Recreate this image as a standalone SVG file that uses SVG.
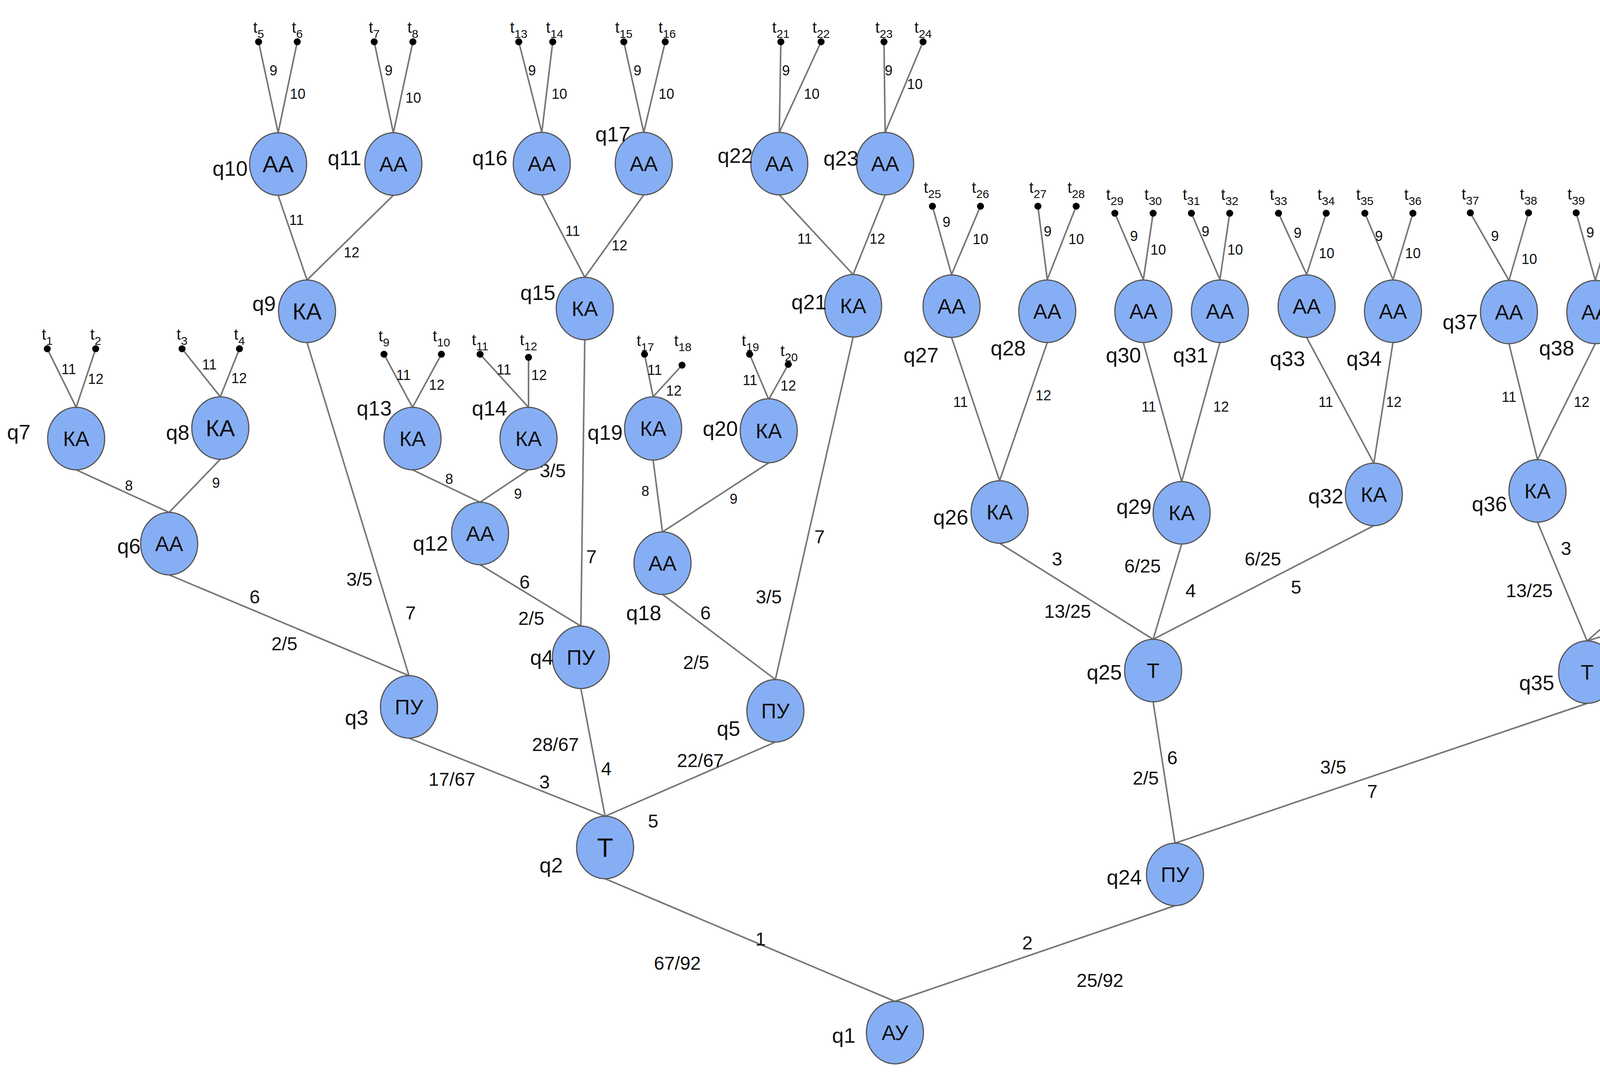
<svg xmlns="http://www.w3.org/2000/svg" width="5385" height="2750" viewBox="0 0 5385 2750">
<style>
text{font-family:"Liberation Sans",Arial,sans-serif;fill:#111;text-anchor:middle;dominant-baseline:central}
.n ellipse{fill:#86aef4;stroke:#555;stroke-width:3}
.n text{font-size:54px}
.ql{font-size:46px}
.s{font-size:36px}
.b{font-size:48px}
.t{font-size:40px}
.t tspan{font-size:30px}
#edges line{stroke:#777;stroke-width:4}
.d{fill:#000}
</style>
<g id="edges">
<line x1="1549" y1="2250" x2="2291" y2="2564"/>
<line x1="3008" y1="2319" x2="2291" y2="2564"/>
<line x1="1047" y1="1890" x2="1549" y2="2090"/>
<line x1="1487" y1="1763" x2="1549" y2="2090"/>
<line x1="1985" y1="1900" x2="1549" y2="2090"/>
<line x1="433" y1="1472" x2="1047" y2="1730"/>
<line x1="786" y1="877" x2="1047" y2="1730"/>
<line x1="1229" y1="1446" x2="1487" y2="1603"/>
<line x1="1497" y1="870" x2="1487" y2="1603"/>
<line x1="1696" y1="1522" x2="1985" y2="1740"/>
<line x1="2184" y1="863" x2="1985" y2="1740"/>
<line x1="195" y1="1203" x2="433" y2="1312"/>
<line x1="564" y1="1176" x2="433" y2="1312"/>
<line x1="712" y1="500" x2="786" y2="717"/>
<line x1="1007" y1="500" x2="786" y2="717"/>
<line x1="1056" y1="1203" x2="1229" y2="1286"/>
<line x1="1353" y1="1203" x2="1229" y2="1286"/>
<line x1="1387" y1="499" x2="1497" y2="710"/>
<line x1="1648" y1="499" x2="1497" y2="710"/>
<line x1="1672" y1="1178" x2="1696" y2="1362"/>
<line x1="1968" y1="1185" x2="1696" y2="1362"/>
<line x1="1995" y1="499" x2="2184" y2="703"/>
<line x1="2266" y1="499" x2="2184" y2="703"/>
<line x1="2952" y1="1797" x2="3008" y2="2159"/>
<line x1="4063" y1="1801" x2="3008" y2="2159"/>
<line x1="2559" y1="1391" x2="2952" y2="1637"/>
<line x1="3025" y1="1393" x2="2952" y2="1637"/>
<line x1="3517" y1="1346" x2="2952" y2="1637"/>
<line x1="3936" y1="1337" x2="4063" y2="1641"/>
<line x1="4404" y1="1346" x2="4063" y2="1641"/>
<line x1="4871" y1="1400" x2="4063" y2="1641"/>
<line x1="2436" y1="864" x2="2559" y2="1231"/>
<line x1="2681" y1="877" x2="2559" y2="1231"/>
<line x1="2927" y1="877" x2="3025" y2="1233"/>
<line x1="3123" y1="877" x2="3025" y2="1233"/>
<line x1="3345" y1="864" x2="3517" y2="1186"/>
<line x1="3566" y1="877" x2="3517" y2="1186"/>
<line x1="3863" y1="880" x2="3936" y2="1177"/>
<line x1="4084" y1="880" x2="3936" y2="1177"/>
<line x1="4305" y1="878" x2="4404" y2="1185"/>
<line x1="4551" y1="865" x2="4404" y2="1185"/>
<line x1="4848" y1="878" x2="4871" y2="1239"/>
<line x1="5191" y1="907" x2="4871" y2="1239"/>
<line x1="121" y1="893" x2="195" y2="1043"/><line x1="245" y1="893" x2="195" y2="1043"/>
<line x1="466" y1="893" x2="564" y2="1016"/><line x1="613" y1="893" x2="564" y2="1016"/>
<line x1="662" y1="107" x2="712" y2="340"/><line x1="761" y1="107" x2="712" y2="340"/>
<line x1="958" y1="107" x2="1007" y2="340"/><line x1="1057" y1="107" x2="1007" y2="340"/>
<line x1="983" y1="907" x2="1056" y2="1043"/><line x1="1130" y1="907" x2="1056" y2="1043"/>
<line x1="1229" y1="907" x2="1353" y2="1043"/><line x1="1353" y1="915" x2="1353" y2="1043"/>
<line x1="1328" y1="107" x2="1387" y2="339"/><line x1="1415" y1="107" x2="1387" y2="339"/>
<line x1="1597" y1="107" x2="1648" y2="339"/><line x1="1703" y1="107" x2="1648" y2="339"/>
<line x1="1650" y1="907" x2="1672" y2="1016"/><line x1="1746" y1="935" x2="1672" y2="1016"/>
<line x1="1919" y1="907" x2="1968" y2="1023"/><line x1="2018" y1="933" x2="1968" y2="1023"/>
<line x1="1999" y1="107" x2="1995" y2="339"/><line x1="2102" y1="107" x2="1995" y2="339"/>
<line x1="2263" y1="107" x2="2266" y2="339"/><line x1="2363" y1="107" x2="2266" y2="339"/>
<line x1="2387" y1="528" x2="2436" y2="703"/><line x1="2510" y1="528" x2="2436" y2="703"/>
<line x1="2657" y1="528" x2="2681" y2="716"/><line x1="2755" y1="528" x2="2681" y2="716"/>
<line x1="2854" y1="546" x2="2927" y2="716"/><line x1="2952" y1="546" x2="2927" y2="716"/>
<line x1="3050" y1="546" x2="3123" y2="716"/><line x1="3148" y1="546" x2="3123" y2="716"/>
<line x1="3273" y1="546" x2="3345" y2="703"/><line x1="3395" y1="546" x2="3345" y2="703"/>
<line x1="3494" y1="546" x2="3566" y2="716"/><line x1="3617" y1="546" x2="3566" y2="716"/>
<line x1="3764" y1="545" x2="3863" y2="718"/><line x1="3913" y1="545" x2="3863" y2="718"/>
<line x1="4035" y1="545" x2="4084" y2="718"/><line x1="4134" y1="545" x2="4084" y2="718"/>
<line x1="4281" y1="545" x2="4305" y2="716"/><line x1="4379" y1="545" x2="4305" y2="716"/>
<line x1="4478" y1="545" x2="4551" y2="703"/><line x1="4600" y1="545" x2="4551" y2="703"/>
<line x1="4824" y1="545" x2="4848" y2="716"/><line x1="4947" y1="545" x2="4848" y2="716"/>
<line x1="5143" y1="545" x2="5191" y2="745"/><line x1="5340" y1="545" x2="5191" y2="745"/>
</g>
<g id="terminals">
<circle class="d" cx="121" cy="893" r="9"/><text class="t" x="121" y="856">t<tspan baseline-shift="sub">1</tspan></text>
<circle class="d" cx="245" cy="893" r="9"/><text class="t" x="245" y="856">t<tspan baseline-shift="sub">2</tspan></text>
<circle class="d" cx="466" cy="893" r="9"/><text class="t" x="466" y="856">t<tspan baseline-shift="sub">3</tspan></text>
<circle class="d" cx="613" cy="893" r="9"/><text class="t" x="613" y="856">t<tspan baseline-shift="sub">4</tspan></text>
<circle class="d" cx="662" cy="107" r="9"/><text class="t" x="662" y="70">t<tspan baseline-shift="sub">5</tspan></text>
<circle class="d" cx="761" cy="107" r="9"/><text class="t" x="761" y="70">t<tspan baseline-shift="sub">6</tspan></text>
<circle class="d" cx="958" cy="107" r="9"/><text class="t" x="958" y="70">t<tspan baseline-shift="sub">7</tspan></text>
<circle class="d" cx="1057" cy="107" r="9"/><text class="t" x="1057" y="70">t<tspan baseline-shift="sub">8</tspan></text>
<circle class="d" cx="983" cy="907" r="9"/><text class="t" x="983" y="860">t<tspan baseline-shift="sub">9</tspan></text>
<circle class="d" cx="1130" cy="907" r="9"/><text class="t" x="1130" y="860">t<tspan baseline-shift="sub">10</tspan></text>
<circle class="d" cx="1229" cy="907" r="9"/><text class="t" x="1229" y="870">t<tspan baseline-shift="sub">11</tspan></text>
<circle class="d" cx="1353" cy="915" r="9"/><text class="t" x="1353" y="870">t<tspan baseline-shift="sub">12</tspan></text>
<circle class="d" cx="1328" cy="107" r="9"/><text class="t" x="1328" y="70">t<tspan baseline-shift="sub">13</tspan></text>
<circle class="d" cx="1415" cy="107" r="9"/><text class="t" x="1420" y="70">t<tspan baseline-shift="sub">14</tspan></text>
<circle class="d" cx="1597" cy="107" r="9"/><text class="t" x="1597" y="70">t<tspan baseline-shift="sub">15</tspan></text>
<circle class="d" cx="1703" cy="107" r="9"/><text class="t" x="1708" y="70">t<tspan baseline-shift="sub">16</tspan></text>
<circle class="d" cx="1650" cy="907" r="9"/><text class="t" x="1652" y="872">t<tspan baseline-shift="sub">17</tspan></text>
<circle class="d" cx="1746" cy="935" r="9"/><text class="t" x="1748" y="872">t<tspan baseline-shift="sub">18</tspan></text>
<circle class="d" cx="1919" cy="907" r="9"/><text class="t" x="1921" y="872">t<tspan baseline-shift="sub">19</tspan></text>
<circle class="d" cx="2018" cy="933" r="9"/><text class="t" x="2020" y="898">t<tspan baseline-shift="sub">20</tspan></text>
<circle class="d" cx="1999" cy="107" r="9"/><text class="t" x="1999" y="70">t<tspan baseline-shift="sub">21</tspan></text>
<circle class="d" cx="2102" cy="107" r="9"/><text class="t" x="2102" y="70">t<tspan baseline-shift="sub">22</tspan></text>
<circle class="d" cx="2263" cy="107" r="9"/><text class="t" x="2263" y="70">t<tspan baseline-shift="sub">23</tspan></text>
<circle class="d" cx="2363" cy="107" r="9"/><text class="t" x="2363" y="70">t<tspan baseline-shift="sub">24</tspan></text>
<circle class="d" cx="2387" cy="528" r="9"/><text class="t" x="2387" y="480">t<tspan baseline-shift="sub">25</tspan></text>
<circle class="d" cx="2510" cy="528" r="9"/><text class="t" x="2510" y="480">t<tspan baseline-shift="sub">26</tspan></text>
<circle class="d" cx="2657" cy="528" r="9"/><text class="t" x="2657" y="480">t<tspan baseline-shift="sub">27</tspan></text>
<circle class="d" cx="2755" cy="528" r="9"/><text class="t" x="2755" y="480">t<tspan baseline-shift="sub">28</tspan></text>
<circle class="d" cx="2854" cy="546" r="9"/><text class="t" x="2854" y="498">t<tspan baseline-shift="sub">29</tspan></text>
<circle class="d" cx="2952" cy="546" r="9"/><text class="t" x="2952" y="498">t<tspan baseline-shift="sub">30</tspan></text>
<circle class="d" cx="3050" cy="546" r="9"/><text class="t" x="3050" y="498">t<tspan baseline-shift="sub">31</tspan></text>
<circle class="d" cx="3148" cy="546" r="9"/><text class="t" x="3148" y="498">t<tspan baseline-shift="sub">32</tspan></text>
<circle class="d" cx="3273" cy="546" r="9"/><text class="t" x="3273" y="498">t<tspan baseline-shift="sub">33</tspan></text>
<circle class="d" cx="3395" cy="546" r="9"/><text class="t" x="3395" y="498">t<tspan baseline-shift="sub">34</tspan></text>
<circle class="d" cx="3494" cy="546" r="9"/><text class="t" x="3494" y="498">t<tspan baseline-shift="sub">35</tspan></text>
<circle class="d" cx="3617" cy="546" r="9"/><text class="t" x="3617" y="498">t<tspan baseline-shift="sub">36</tspan></text>
<circle class="d" cx="3764" cy="545" r="9"/><text class="t" x="3764" y="497">t<tspan baseline-shift="sub">37</tspan></text>
<circle class="d" cx="3913" cy="545" r="9"/><text class="t" x="3913" y="497">t<tspan baseline-shift="sub">38</tspan></text>
<circle class="d" cx="4035" cy="545" r="9"/><text class="t" x="4035" y="497">t<tspan baseline-shift="sub">39</tspan></text>
<circle class="d" cx="4134" cy="545" r="9"/><text class="t" x="4134" y="497">t<tspan baseline-shift="sub">40</tspan></text>
<circle class="d" cx="4281" cy="545" r="9"/><text class="t" x="4281" y="497">t<tspan baseline-shift="sub">41</tspan></text>
<circle class="d" cx="4379" cy="545" r="9"/><text class="t" x="4379" y="497">t<tspan baseline-shift="sub">42</tspan></text>
<circle class="d" cx="4478" cy="545" r="9"/><text class="t" x="4478" y="497">t<tspan baseline-shift="sub">43</tspan></text>
<circle class="d" cx="4600" cy="545" r="9"/><text class="t" x="4600" y="497">t<tspan baseline-shift="sub">44</tspan></text>
<circle class="d" cx="4824" cy="545" r="9"/><text class="t" x="4824" y="497">t<tspan baseline-shift="sub">45</tspan></text>
<circle class="d" cx="4947" cy="545" r="9"/><text class="t" x="4947" y="497">t<tspan baseline-shift="sub">46</tspan></text>
<circle class="d" cx="5143" cy="545" r="9"/><text class="t" x="5143" y="497">t<tspan baseline-shift="sub">47</tspan></text>
<circle class="d" cx="5340" cy="545" r="9"/><text class="t" x="5335" y="497">t<tspan baseline-shift="sub">48</tspan></text>
</g>
<g id="edge-labels">
<text class="s" x="176" y="945">11</text><text class="s" x="245" y="970">12</text>
<text class="s" x="536" y="933">11</text><text class="s" x="612" y="968">12</text>
<text class="s" x="700" y="180">9</text><text class="s" x="762" y="240">10</text>
<text class="s" x="995" y="180">9</text><text class="s" x="1058" y="250">10</text>
<text class="s" x="1033" y="960">11</text><text class="s" x="1118" y="985">12</text>
<text class="s" x="1290" y="946">11</text><text class="s" x="1380" y="960">12</text>
<text class="s" x="1362" y="180">9</text><text class="s" x="1432" y="240">10</text>
<text class="s" x="1632" y="180">9</text><text class="s" x="1706" y="240">10</text>
<text class="s" x="1676" y="947">11</text><text class="s" x="1725" y="1000">12</text>
<text class="s" x="1920" y="973">11</text><text class="s" x="2018" y="987">12</text>
<text class="s" x="2012" y="180">9</text><text class="s" x="2078" y="240">10</text>
<text class="s" x="2275" y="180">9</text><text class="s" x="2342" y="215">10</text>
<text class="s" x="2423" y="568">9</text><text class="s" x="2510" y="612">10</text>
<text class="s" x="2682" y="592">9</text><text class="s" x="2755" y="612">10</text>
<text class="s" x="2903" y="604">9</text><text class="s" x="2965" y="639">10</text>
<text class="s" x="3086" y="592">9</text><text class="s" x="3162" y="639">10</text>
<text class="s" x="3322" y="596">9</text><text class="s" x="3396" y="648">10</text>
<text class="s" x="3530" y="604">9</text><text class="s" x="3617" y="648">10</text>
<text class="s" x="3827" y="604">9</text><text class="s" x="3915" y="663">10</text>
<text class="s" x="4071" y="595">9</text><text class="s" x="4135" y="650">10</text>
<text class="s" x="4318" y="595">9</text><text class="s" x="4368" y="661">10</text>
<text class="s" x="4525" y="595">9</text><text class="s" x="4603" y="641">10</text>
<text class="s" x="4848" y="595">9</text><text class="s" x="4923" y="648">10</text>
<text class="s" x="5181" y="601">9</text><text class="s" x="5267" y="684">10</text>
<text class="s" x="759" y="563">11</text><text class="s" x="900" y="646">12</text>
<text class="s" x="1466" y="591">11</text><text class="s" x="1586" y="628">12</text>
<text class="s" x="2060" y="611">11</text><text class="s" x="2246" y="611">12</text>
<text class="s" x="330" y="1243">8</text><text class="s" x="553" y="1236">9</text>
<text class="s" x="1150" y="1226">8</text><text class="s" x="1326" y="1264">9</text>
<text class="s" x="1652" y="1257">8</text><text class="s" x="1878" y="1277">9</text>
<text class="s" x="2459" y="1029">11</text><text class="s" x="2671" y="1012">12</text>
<text class="s" x="2941" y="1041">11</text><text class="s" x="3126" y="1041">12</text>
<text class="s" x="3394" y="1029">11</text><text class="s" x="3568" y="1029">12</text>
<text class="s" x="3863" y="1016">11</text><text class="s" x="4049" y="1029">12</text>
<text class="s" x="4307" y="1029">11</text><text class="s" x="4527" y="1029">12</text>
<text class="s" x="4823" y="1029">11</text><text class="s" x="5095" y="1062">12</text>
<text class="b" x="652" y="1528">6</text><text class="b" x="728" y="1648">2/5</text>
<text class="b" x="920" y="1483">3/5</text><text class="b" x="1051" y="1569">7</text>
<text class="b" x="1343" y="1490">6</text><text class="b" x="1360" y="1583">2/5</text>
<text class="b" x="1415" y="1205">3/5</text><text class="b" x="1514" y="1425">7</text>
<text class="b" x="1806" y="1569">6</text><text class="b" x="1782" y="1696">2/5</text>
<text class="b" x="2098" y="1374">7</text><text class="b" x="1968" y="1528">3/5</text>
<text class="b" x="1157" y="1995">17/67</text><text class="b" x="1394" y="2002">3</text>
<text class="b" x="1422" y="1906">28/67</text><text class="b" x="1552" y="1968">4</text>
<text class="b" x="1793" y="1947">22/67</text><text class="b" x="1672" y="2102">5</text>
<text class="b" x="1947" y="2404">1</text><text class="b" x="1734" y="2466">67/92</text>
<text class="b" x="2630" y="2414">2</text><text class="b" x="2816" y="2510">25/92</text>
<text class="b" x="2933" y="1992">2/5</text><text class="b" x="3001" y="1940">6</text>
<text class="b" x="3413" y="1964">3/5</text><text class="b" x="3513" y="2026">7</text>
<text class="b" x="2706" y="1431">3</text><text class="b" x="2733" y="1565">13/25</text>
<text class="b" x="2925" y="1449">6/25</text><text class="b" x="3048" y="1512">4</text>
<text class="b" x="3233" y="1431">6/25</text><text class="b" x="3318" y="1503">5</text>
<text class="b" x="4009" y="1404">3</text><text class="b" x="3915" y="1512">13/25</text>
<text class="b" x="4194" y="1449">6/25</text><text class="b" x="4267" y="1512">4</text>
<text class="b" x="4476" y="1449">6/25</text><text class="b" x="4391" y="1592">5</text>
</g>
<g id="q1" class="n"><ellipse cx="2291" cy="2644" rx="73" ry="80"/><text x="2291" y="2644">АУ</text><text class="ql" x="2160" y="2651">q1</text></g>
<g id="q2" class="n"><ellipse cx="1549" cy="2170" rx="73" ry="80"/><text x="1549" y="2170" style="font-size:68px">Т</text><text class="ql" x="1411" y="2215">q2</text></g>
<g id="q3" class="n"><ellipse cx="1047" cy="1810" rx="73" ry="80"/><text x="1047" y="1810">ПУ</text><text class="ql" x="913" y="1837">q3</text></g>
<g id="q4" class="n"><ellipse cx="1487" cy="1683" rx="73" ry="80"/><text x="1487" y="1683">ПУ</text><text class="ql" x="1387" y="1683">q4</text></g>
<g id="q5" class="n"><ellipse cx="1985" cy="1820" rx="73" ry="80"/><text x="1985" y="1820">ПУ</text><text class="ql" x="1865" y="1865">q5</text></g>
<g id="q6" class="n"><ellipse cx="433" cy="1392" rx="73" ry="80"/><text x="433" y="1392">АА</text><text class="ql" x="330" y="1398">q6</text></g>
<g id="q7" class="n"><ellipse cx="195" cy="1123" rx="73" ry="80"/><text x="195" y="1123">КА</text><text class="ql" x="48" y="1106">q7</text></g>
<g id="q8" class="n"><ellipse cx="564" cy="1096" rx="73" ry="80"/><text x="564" y="1096" style="font-size:60px">КА</text><text class="ql" x="455" y="1107">q8</text></g>
<g id="q9" class="n"><ellipse cx="786" cy="797" rx="73" ry="80"/><text x="786" y="797" style="font-size:60px">КА</text><text class="ql" x="676" y="777">q9</text></g>
<g id="q10" class="n"><ellipse cx="712" cy="420" rx="73" ry="80"/><text x="712" y="420" style="font-size:60px">АА</text><text class="ql" x="589" y="431">q10</text></g>
<g id="q11" class="n"><ellipse cx="1007" cy="420" rx="73" ry="80"/><text x="1007" y="420">АА</text><text class="ql" x="882" y="404">q11</text></g>
<g id="q12" class="n"><ellipse cx="1229" cy="1366" rx="73" ry="80"/><text x="1229" y="1366">АА</text><text class="ql" x="1102" y="1391">q12</text></g>
<g id="q13" class="n"><ellipse cx="1056" cy="1123" rx="73" ry="80"/><text x="1056" y="1123">КА</text><text class="ql" x="958" y="1045">q13</text></g>
<g id="q14" class="n"><ellipse cx="1353" cy="1123" rx="73" ry="80"/><text x="1353" y="1123">КА</text><text class="ql" x="1253" y="1045">q14</text></g>
<g id="q15" class="n"><ellipse cx="1497" cy="790" rx="73" ry="80"/><text x="1497" y="790">КА</text><text class="ql" x="1377" y="749">q15</text></g>
<g id="q16" class="n"><ellipse cx="1387" cy="419" rx="73" ry="80"/><text x="1387" y="419">АА</text><text class="ql" x="1254" y="404">q16</text></g>
<g id="q17" class="n"><ellipse cx="1648" cy="419" rx="73" ry="80"/><text x="1648" y="419">АА</text><text class="ql" x="1569" y="343">q17</text></g>
<g id="q18" class="n"><ellipse cx="1696" cy="1442" rx="73" ry="80"/><text x="1696" y="1442">АА</text><text class="ql" x="1648" y="1569">q18</text></g>
<g id="q19" class="n"><ellipse cx="1672" cy="1097" rx="73" ry="81"/><text x="1672" y="1097">КА</text><text class="ql" x="1549" y="1107">q19</text></g>
<g id="q20" class="n"><ellipse cx="1968" cy="1103" rx="73" ry="82"/><text x="1968" y="1103">КА</text><text class="ql" x="1844" y="1097">q20</text></g>
<g id="q21" class="n"><ellipse cx="2184" cy="783" rx="73" ry="80"/><text x="2184" y="783">КА</text><text class="ql" x="2071" y="773">q21</text></g>
<g id="q22" class="n"><ellipse cx="1995" cy="419" rx="73" ry="80"/><text x="1995" y="419">АА</text><text class="ql" x="1882" y="398">q22</text></g>
<g id="q23" class="n"><ellipse cx="2266" cy="419" rx="73" ry="80"/><text x="2266" y="419">АА</text><text class="ql" x="2153" y="405">q23</text></g>
<g id="q24" class="n"><ellipse cx="3008" cy="2239" rx="73" ry="80"/><text x="3008" y="2239">ПУ</text><text class="ql" x="2878" y="2246">q24</text></g>
<g id="q25" class="n"><ellipse cx="2952" cy="1717" rx="73" ry="80"/><text x="2952" y="1717">Т</text><text class="ql" x="2827" y="1721">q25</text></g>
<g id="q26" class="n"><ellipse cx="2559" cy="1311" rx="73" ry="80"/><text x="2559" y="1311">КА</text><text class="ql" x="2434" y="1324">q26</text></g>
<g id="q27" class="n"><ellipse cx="2436" cy="784" rx="73" ry="80"/><text x="2436" y="784">АА</text><text class="ql" x="2358" y="909">q27</text></g>
<g id="q28" class="n"><ellipse cx="2681" cy="797" rx="73" ry="80"/><text x="2681" y="797">АА</text><text class="ql" x="2581" y="891">q28</text></g>
<g id="q29" class="n"><ellipse cx="3025" cy="1313" rx="73" ry="80"/><text x="3025" y="1313">КА</text><text class="ql" x="2903" y="1297">q29</text></g>
<g id="q30" class="n"><ellipse cx="2927" cy="797" rx="73" ry="80"/><text x="2927" y="797">АА</text><text class="ql" x="2876" y="909">q30</text></g>
<g id="q31" class="n"><ellipse cx="3123" cy="797" rx="73" ry="80"/><text x="3123" y="797">АА</text><text class="ql" x="3048" y="909">q31</text></g>
<g id="q32" class="n"><ellipse cx="3517" cy="1266" rx="73" ry="80"/><text x="3517" y="1266">КА</text><text class="ql" x="3394" y="1270">q32</text></g>
<g id="q33" class="n"><ellipse cx="3345" cy="784" rx="73" ry="80"/><text x="3345" y="784">АА</text><text class="ql" x="3296" y="918">q33</text></g>
<g id="q34" class="n"><ellipse cx="3566" cy="797" rx="73" ry="80"/><text x="3566" y="797">АА</text><text class="ql" x="3492" y="918">q34</text></g>
<g id="q35" class="n"><ellipse cx="4063" cy="1721" rx="73" ry="80"/><text x="4063" y="1721">Т</text><text class="ql" x="3934" y="1748">q35</text></g>
<g id="q36" class="n"><ellipse cx="3936" cy="1257" rx="73" ry="80"/><text x="3936" y="1257">КА</text><text class="ql" x="3813" y="1290">q36</text></g>
<g id="q37" class="n"><ellipse cx="3863" cy="799" rx="73" ry="81"/><text x="3863" y="799">АА</text><text class="ql" x="3738" y="824">q37</text></g>
<g id="q38" class="n"><ellipse cx="4084" cy="799" rx="73" ry="81"/><text x="4084" y="799">АА</text><text class="ql" x="3985" y="891">q38</text></g>
<g id="q39" class="n"><ellipse cx="4404" cy="1266" rx="73" ry="80"/><text x="4404" y="1266">КА</text><text class="ql" x="4280" y="1264">q39</text></g>
<g id="q40" class="n"><ellipse cx="4305" cy="797" rx="73" ry="81"/><text x="4305" y="797">АА</text><text class="ql" x="4232" y="909">q40</text></g>
<g id="q41" class="n"><ellipse cx="4551" cy="784" rx="73" ry="81"/><text x="4551" y="784">АА</text><text class="ql" x="4476" y="882">q41</text></g>
<g id="q42" class="n"><ellipse cx="4871" cy="1320" rx="73" ry="80"/><text x="4871" y="1320">КА</text><text class="ql" x="4751" y="1324">q42</text></g>
<g id="q43" class="n"><ellipse cx="4848" cy="797" rx="73" ry="81"/><text x="4848" y="797">АА</text><text class="ql" x="4723" y="827">q43</text></g>
<g id="q44" class="n"><ellipse cx="5191" cy="826" rx="73" ry="81"/><text x="5191" y="826">АА</text><text class="ql" x="5067" y="855">q44</text></g>
</svg>
